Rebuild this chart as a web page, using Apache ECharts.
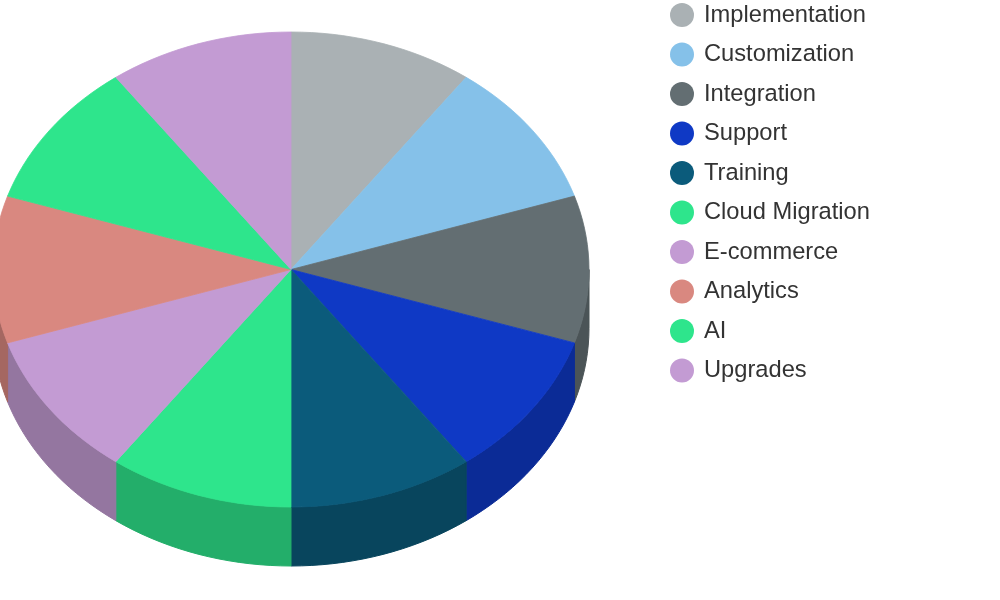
<!DOCTYPE html>
<html><head><meta charset="utf-8">
<script src="https://cdn.jsdelivr.net/npm/echarts@6/dist/echarts.min.js"></script>
<style>html,body{margin:0;padding:0;background:#fff}#c{width:1000px;height:600px}</style>
</head><body><div id="c"></div>
<script>
const categories = ['Implementation','Customization','Integration','Support','Training','Cloud Migration','E-commerce','Analytics','AI','Upgrades'];
const values = [10,10,10,10,10,10,10,10,10,10];
const colors = ['#aab1b4','#85c1e9','#636e72','#0f39c5','#0b5b7b','#2ee58c','#c39bd3','#d98880','#2ee58c','#c39bd3'];

function shade(hex, f){
  const n = parseInt(hex.slice(1),16);
  const r = Math.round(((n>>16)&255)*f), g = Math.round(((n>>8)&255)*f), b = Math.round((n&255)*f);
  return 'rgb('+r+','+g+','+b+')';
}
const total = values.reduce((a,b)=>a+b,0);
const cx = 291, cy = 269.5, rx = 298, ry = 237.5, depth = 59;

function arcPts(a1, a2, dy){
  const pts = [];
  const N = Math.max(2, Math.ceil((a2-a1)/(Math.PI/90)));
  for (let k=0;k<=N;k++){
    const a = a1 + (a2-a1)*k/N;
    pts.push([cx + rx*Math.cos(a), cy + dy + ry*Math.sin(a)]);
  }
  return pts;
}

function renderItem(params, api){
  const i = params.dataIndex;
  let cum = 0;
  for (let j=0;j<i;j++) cum += values[j];
  const v = api.value(0);
  const a1 = -Math.PI/2 + cum/total*2*Math.PI;
  const a2 = a1 + v/total*2*Math.PI;
  const children = [];
  const s1 = Math.max(a1, 0), s2 = Math.min(a2, Math.PI);
  if (s2 > s1){
    const topArc = arcPts(s1, s2, 0);
    const botArc = arcPts(s1, s2, depth).reverse();
    children.push({type:'polygon', z2:1, shape:{points: topArc.concat(botArc)},
      style:{fill: shade(colors[i],0.76), stroke: shade(colors[i],0.76), lineWidth:1}});
  }
  const pts = [[cx,cy]].concat(arcPts(a1,a2,0));
  children.push({type:'polygon', z2:2, shape:{points:pts},
    style:{fill: colors[i], stroke: colors[i], lineWidth:0.8}});
  return {type:'group', children};
}

const chart = echarts.init(document.getElementById('c'));
chart.setOption({
  animation:false,
  backgroundColor:'#fff',
  legend:{
    orient:'vertical', left:670, top:3, padding:0,
    data: categories, icon:'circle',
    itemWidth:24, itemHeight:24, itemGap:15.5,
    textStyle:{fontFamily:'Liberation Sans, Arial', fontSize:23.7, color:'#333', padding:[0,0,0,5]}
  },
  series:[
    {type:'pie', center:[-500,-500], radius:5, silent:true, label:{show:false},
     data: categories.map((n,i)=>({name:n, value:values[i], itemStyle:{color:colors[i]}}))},
    {type:'custom', name:'3d', coordinateSystem:'none', renderItem, silent:true,
     data: values}
  ]
});
</script></body></html>
